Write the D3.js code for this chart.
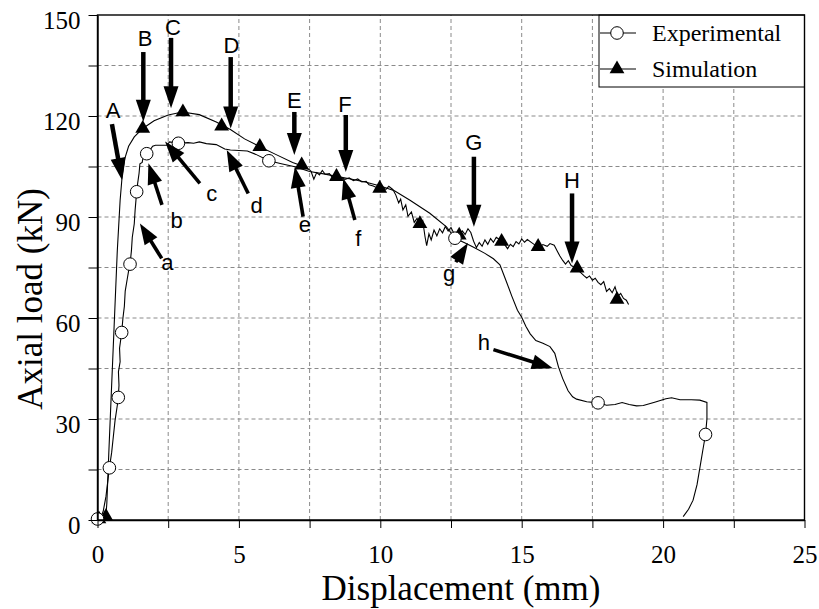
<!DOCTYPE html>
<html>
<head>
<meta charset="UTF-8">
<title>Axial load vs displacement</title>
<script src="https://cdn.jsdelivr.net/npm/d3@7/dist/d3.min.js"></script>
<style>
body { margin: 0; background: #fff; }
.serif { font-family: "Liberation Serif", "Times New Roman", serif; }
.sans { font-family: "Liberation Sans", Arial, sans-serif; }
.grid line { stroke: #8a8a8a; stroke-width: 1; stroke-dasharray: 4,3; }
.axis path, .axis line { stroke: #000; }
</style>
</head>
<body>
<div id="chart"></div>
<script>
/*global d3*/

// ---- data ----
var xTicks = [0, 5, 10, 15, 20, 25];
var yTicks = [0, 30, 60, 90, 120, 150];

// experimental curve (displacement mm, load kN)
var expX = [0, 0.1, 0.2, 0.3, 0.42, 0.5, 0.55, 0.62, 0.7, 0.735, 0.76, 0.74, 0.8, 0.78, 0.855, 0.9, 0.95, 0.98, 1.05, 1.1,
            1.15, 1.2, 1.23, 1.3, 1.33, 1.36, 1.385, 1.42, 1.47, 1.5, 1.58, 1.62, 1.74, 1.85, 1.95, 2.05, 2.45, 2.55, 2.86, 3.2,
            3.4, 3.6, 3.85, 4.2, 4.5, 4.7, 5.3, 5.6, 6.06, 6.5, 6.98, 7.5, 8.0, 8.5, 9.0, 9.5, 10.0, 10.5, 11.05, 11.75,
            12.34, 12.64, 13.0, 13.3, 13.7, 14.0, 14.23, 14.45, 14.65, 14.85, 15.0, 15.15, 15.3, 15.5, 15.75, 16.0, 16.17, 16.3, 16.45, 16.64,
            16.8, 16.94, 17.3, 17.7, 18.0, 18.3, 18.55, 18.8, 19.06, 19.3, 19.7, 20.1, 20.3, 20.6, 21.0, 21.3, 21.55, 21.55, 21.5, 21.4,
            21.3, 21.2, 21.06, 20.9, 20.71];
var expY = [0, 0.5, 2.5, 7, 15.5, 20, 24, 29.5, 34, 36.4, 40, 44, 47, 51, 55.7, 60, 63.5, 68, 71.5, 74,
            76, 80, 84, 88, 92, 95, 97.5, 100, 103, 105.8, 106.2, 108, 108.8, 109.8, 111, 111.3, 111.3, 112.3, 111.9, 112.1,
            111.9, 112.3, 111.8, 111.5, 110.2, 109.9, 109.6, 108.6, 106.7, 105.8, 104.9, 103.5, 102.8, 102, 101.2, 100.3, 99.2, 97.8, 95, 91.1,
            87.1, 83.7, 82.3, 81, 79.2, 77.6, 75.8, 71, 66.5, 62.3, 60.2, 57.5, 55.3, 53.3, 52.5, 51.5, 49.5, 45.5, 42, 38.4,
            36.6, 35.9, 35.1, 34.8, 34.1, 34.3, 34.9, 34.3, 33.9, 34, 35, 36, 36.3, 35.7, 35.7, 35.6, 34.9, 30, 25.4, 20.5,
            15.5, 10.5, 5.9, 3.2, 1];
var expMarkX = [0, 0.42, 0.735, 0.855, 1.15, 1.385, 1.74, 2.86, 6.06, 12.64, 17.7, 21.5];
var expMarkY = [0.3, 15.5, 36.4, 55.7, 76, 97.5, 108.8, 111.9, 106.7, 83.7, 34.8, 25.4];

// simulation curve
var simX = [0, 0.15, 0.3, 0.33, 0.4, 0.5, 0.6, 0.7, 0.8, 0.86, 0.97, 1.1, 1.3, 1.6, 2.0, 2.5, 3.0, 3.6, 4.2, 4.7,
            5.2, 5.74, 6.3, 6.9, 7.22, 7.5, 7.55, 7.65, 7.75, 7.85, 7.95, 8.05, 8.2, 8.3, 8.45, 8.6, 8.75, 8.9, 9.05, 9.2,
            9.35, 9.5, 9.6, 9.75, 9.9, 10.05, 10.2, 10.3, 10.45, 10.55, 10.65, 10.72, 10.8, 10.9, 10.98, 11.1, 11.2, 11.3, 11.4, 11.5,
            11.58, 11.64, 11.72, 11.8, 11.9, 12.0, 12.1, 12.2, 12.3, 12.4, 12.5, 12.6, 12.7, 12.8, 12.9, 13.0, 13.1, 13.2, 13.3, 13.4,
            13.5, 13.6, 13.7, 13.8, 13.9, 14.0, 14.1, 14.2, 14.3, 14.4, 14.5, 14.6, 14.7, 14.8, 14.9, 15.0, 15.1, 15.2, 15.35, 15.5,
            15.6, 15.75, 15.9, 16.0, 16.15, 16.25, 16.35, 16.45, 16.55, 16.65, 16.75, 16.9, 17.05, 17.2, 17.3, 17.4, 17.5, 17.6, 17.7, 17.8,
            17.9, 18.0, 18.1, 18.2, 18.3, 18.4, 18.5, 18.6, 18.7, 18.78];
var simY = [0, 0.5, 1.5, 5, 20, 40, 60, 80, 95, 101, 107.5, 111, 113.8, 116.3, 118.6, 120.3, 121.2, 120.4, 118.2, 116,
            113.2, 110.9, 108.6, 106.2, 105.2, 104, 103.6, 101.2, 103.2, 102.5, 103.8, 102.7, 102.9, 101.8, 102.2, 101.7, 101.2, 101.6, 100.8, 101.3,
            100.4, 100.6, 99.6, 99.2, 98.6, 98.8, 98.2, 99.1, 98.1, 96.5, 94.2, 95.3, 92.1, 93.6, 90.2, 91.5, 88.4, 89.6, 87.8, 88.9,
            84.2, 81.5, 85, 83.2, 86.1, 84.4, 86.5, 85.3, 87.2, 85.8, 86.9, 85.2, 84.7, 84.8, 85.9, 84.8, 86.5, 85.4, 82.8, 80.9,
            82.4, 81.3, 83.2, 81.9, 83.6, 82.5, 84, 83.4, 82.6, 81.8, 80.6, 81.9, 81.2, 82.7, 82, 83.5, 82.5, 83.3, 82.4, 81.5,
            81, 81.8, 81.3, 82.1, 81.6, 80, 78.4, 77.1, 76, 77, 75.6, 74.9, 73.8, 72.6, 71.9, 72.5, 71.2, 71.8, 70.6, 69.9,
            70.8, 67.9, 68.7, 67.5, 69.3, 66.4, 67.3, 65.8, 65.3, 64];
var simMarkX = [0.05, 0.3, 1.6, 3.02, 4.39, 5.74, 7.22, 8.45, 9.98, 11.4, 12.79, 14.29, 15.58, 16.96, 18.37];
var simMarkY = [0.3, 1, 116.3, 121.2, 117, 110.9, 105.4, 102, 98.5, 88, 84.6, 82.7, 81.2, 74.8, 65.5];

// stage arrows on the simulation curve (tip, tail, label baseline in data units)
var upLetters = ["A", "B", "C", "D", "E", "F", "G", "H"];
var upTip   = [[0.866, 101], [1.62, 118.3], [2.6, 122.3], [4.71, 116.3], [6.96, 108.4], [8.78, 103.4], [13.31, 87.1], [16.78, 76.2]];
var upTail  = [[0.51, 117.6], [1.62, 139], [2.6, 143.2], [4.71, 137.5], [6.96, 121.2], [8.78, 120.3], [13.31, 107.9], [16.78, 97]];
var upLabel = [[0.55, 119.4], [1.68, 140.8], [2.67, 144], [4.74, 138.6], [6.96, 122.3], [8.75, 121.1], [13.31, 110], [16.78, 98.6]];

// stage arrows on the experimental curve
var lowLetters = ["a", "b", "c", "d", "e", "f", "g", "h"];
var lowTip   = [[1.5, 88.1], [1.8, 106], [2.39, 112.4], [4.57, 109.9], [6.98, 104.9], [8.69, 101.5], [13.1, 82.3], [16.1, 45.1]];
var lowTail  = [[2.27, 77.7], [2.28, 93.6], [3.62, 100], [5.33, 97], [7.27, 90.1], [9.1, 89.1], [12.67, 76.6], [14.0, 50.6]];
var lowLabel = [[2.47, 74.3], [2.8, 86.7], [4.04, 94.8], [5.63, 91.2], [7.33, 85.4], [9.22, 81.3], [12.43, 70.9], [13.66, 50.5]];

var width = 819, height = 609;
var padL = 97.5, padR = 804.5, padT = 15, padB = 520;

var svg = d3.select("#chart").append("svg")
    .attr("width", width)
    .attr("height", height);

var x = d3.scaleLinear().domain([0, 25]).range([padL, padR]);
var y = d3.scaleLinear().domain([0, 150]).range([padB, padT]);

// grid: every 2.5 mm and every 15 kN
var gx = d3.range(2.5, 25, 2.5), gy = d3.range(15, 150, 15);
var grid = svg.append("g").attr("class", "grid");
grid.selectAll(".gv").data(gx).enter().append("line")
    .attr("x1", function(d) { return x(d); }).attr("x2", function(d) { return x(d); })
    .attr("y1", y(0)).attr("y2", y(150));
grid.selectAll(".gh").data(gy).enter().append("line")
    .attr("x1", x(0)).attr("x2", x(25))
    .attr("y1", function(d) { return y(d); }).attr("y2", function(d) { return y(d); });

// curves
var line = d3.line()
    .x(function(d) { return x(d[0]); })
    .y(function(d) { return y(d[1]); });

function pairs(a, b) { return a.map(function(v, i) { return [v, b[i]]; }); }

svg.append("path").datum(pairs(expX, expY))
    .attr("d", line).attr("fill", "none").attr("stroke", "#000").attr("stroke-width", 1.1);
svg.append("path").datum(pairs(simX, simY))
    .attr("d", line).attr("fill", "none").attr("stroke", "#000").attr("stroke-width", 1.1);

var tri = d3.symbol().type(d3.symbolTriangle).size(95);

svg.selectAll(".tri").data(pairs(simMarkX, simMarkY)).enter().append("path")
    .attr("class", "tri")
    .attr("d", tri)
    .attr("transform", function(d) { return "translate(" + x(d[0]) + "," + y(d[1]) + ")"; })
    .attr("fill", "#000");

svg.selectAll(".circ").data(pairs(expMarkX, expMarkY)).enter().append("circle")
    .attr("class", "circ")
    .attr("cx", function(d) { return x(d[0]); })
    .attr("cy", function(d) { return y(d[1]); })
    .attr("r", 6.3)
    .attr("fill", "#fff").attr("stroke", "#000").attr("stroke-width", 1);

// arrows
function arrow(g, x1, y1, x2, y2, shaft, headL, headW) {
    var dx = x2 - x1, dy = y2 - y1, len = Math.sqrt(dx * dx + dy * dy);
    var ux = dx / len, uy = dy / len;
    var bx = x2 - ux * headL, by = y2 - uy * headL;
    g.append("line")
        .attr("x1", x1).attr("y1", y1).attr("x2", bx + ux * 2).attr("y2", by + uy * 2)
        .attr("stroke", "#000").attr("stroke-width", shaft);
    g.append("path")
        .attr("d", "M" + x2 + "," + y2 +
                   "L" + (bx - uy * headW / 2) + "," + (by + ux * headW / 2) +
                   "L" + (bx + uy * headW / 2) + "," + (by - ux * headW / 2) + "Z")
        .attr("fill", "#000");
}

var ann = svg.append("g");
upLetters.forEach(function(t, i) {
    arrow(ann, x(upTail[i][0]), y(upTail[i][1]), x(upTip[i][0]), y(upTip[i][1]), 4.5, 22, 15);
    ann.append("text").attr("class", "sans")
        .attr("x", x(upLabel[i][0])).attr("y", y(upLabel[i][1]))
        .attr("text-anchor", "middle").attr("font-size", 22).text(t);
});
lowLetters.forEach(function(t, i) {
    arrow(ann, x(lowTail[i][0]), y(lowTail[i][1]), x(lowTip[i][0]), y(lowTip[i][1]), 3.6, 21, 15);
    ann.append("text").attr("class", "sans")
        .attr("x", x(lowLabel[i][0])).attr("y", y(lowLabel[i][1]))
        .attr("text-anchor", "middle").attr("font-size", 22).text(t);
});

// legend
var lg = svg.append("g");
lg.append("rect")
    .attr("x", 599).attr("y", padT).attr("width", padR - 599).attr("height", 72)
    .attr("fill", "#fff").attr("stroke", "#000").attr("stroke-width", 1);
var legendRows = [{ name: "Experimental", y: 33 }, { name: "Simulation", y: 69 }];
legendRows.forEach(function(r, i) {
    lg.append("line").attr("x1", 600).attr("x2", 636).attr("y1", r.y).attr("y2", r.y)
        .attr("stroke", "#000").attr("stroke-width", 1.1);
    if (i === 0) {
        lg.append("circle").attr("cx", 617).attr("cy", r.y).attr("r", 6.3)
            .attr("fill", "#fff").attr("stroke", "#000");
    } else {
        lg.append("path").attr("d", tri).attr("transform", "translate(617," + r.y + ")");
    }
    lg.append("text").attr("class", "serif")
        .attr("x", 652).attr("y", r.y + 8)
        .attr("font-size", 24).text(r.name);
});

// frame
svg.append("rect")
    .attr("x", padL).attr("y", padT).attr("width", padR - padL).attr("height", padB - padT)
    .attr("fill", "none").attr("stroke", "#000").attr("stroke-width", 1.4);

// axes
var xAxis = d3.axisBottom(x)
    .tickValues(d3.range(0, 25.01, 2.5))
    .tickFormat(function(d) { return xTicks.indexOf(d) >= 0 ? d : ""; })
    .tickSize(8).tickPadding(17).tickSizeOuter(0);
var yAxis = d3.axisLeft(y)
    .tickValues(d3.range(0, 150.01, 15))
    .tickFormat(function(d) { return yTicks.indexOf(d) >= 0 ? d : ""; })
    .tickSize(9).tickPadding(8).tickSizeOuter(0);

svg.append("g").attr("class", "axis serif")
    .attr("transform", "translate(0," + padB + ")")
    .call(xAxis)
    .call(function(g) {
        g.select(".domain").attr("stroke-width", 1.4);
        g.selectAll("text").attr("font-size", 25).attr("fill", "#000")
            .attr("font-family", "Liberation Serif, Times New Roman, serif");
    });
svg.append("g").attr("class", "axis serif")
    .attr("transform", "translate(" + padL + ",0)")
    .call(yAxis)
    .call(function(g) {
        g.select(".domain").attr("stroke-width", 1.4);
        g.selectAll("text").attr("font-size", 25).attr("fill", "#000").attr("dy", "0.55em")
            .attr("font-family", "Liberation Serif, Times New Roman, serif");
    });

// titles
svg.append("text").attr("class", "serif")
    .attr("x", 461).attr("y", 600)
    .attr("text-anchor", "middle").attr("font-size", 35)
    .text("Displacement (mm)");
svg.append("text").attr("class", "serif")
    .attr("transform", "translate(42,299) rotate(-90)")
    .attr("text-anchor", "middle").attr("font-size", 35)
    .text("Axial load (kN)");
</script>
</body>
</html>
